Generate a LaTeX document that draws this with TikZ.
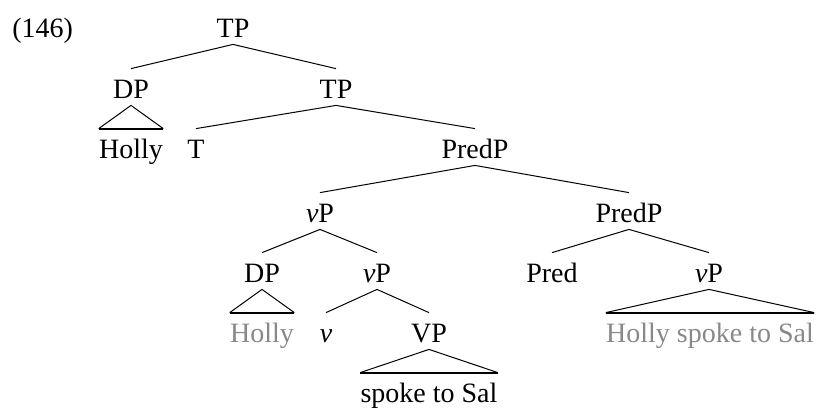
\documentclass[tikz,border=0pt]{standalone}
\usepackage{fontspec}
\setmainfont{Liberation Serif}
\definecolor{tracegray}{RGB}{136,136,136}
\begin{document}
\begin{tikzpicture}[x=0.5pt,y=-0.5pt,
  font=\fontsize{14}{16}\selectfont,
  cat/.style={anchor=base,inner xsep=1pt,inner ysep=3.5pt,text height=11pt,text depth=0pt},
  leaf/.style={cat,inner xsep=0pt},
  trace/.style={text=tracegray},
  edge/.style={line width=0.5pt},
  base/.style={line width=1.1pt}]
\useasboundingbox (0,0) rectangle (819,409);

\node[anchor=base west,inner sep=0pt] (ex) at (12,37) {(146)};

% upper spine
\node[cat] (tp0) at (233,37) {TP};
\node[cat] (dp1) at (131,98) {DP};
\node[leaf] (holly1) at (131,158) {Holly};
\node[cat] (tp1) at (336,98) {TP};
\node[cat] (t) at (196,158) {T};
\node[cat] (predp1) at (475,158) {PredP};

% small clause
\node[cat] (vp1) at (320,222) {\textit{v}P};
\node[cat] (predp2) at (629,222) {PredP};
\node[cat] (dp2) at (262,282) {DP};
\node[leaf,trace] (holly2) at (262,342) {Holly};
\node[cat] (vp2) at (377,282) {\textit{v}P};
\node[cat] (v) at (326,342) {\textit{v}};
\node[cat] (vpbar) at (429,342) {VP};
\node[leaf] (spoke) at (429,402) {spoke to Sal};
\node[cat] (pred) at (552,282) {Pred};
\node[cat] (vp3) at (709,282) {\textit{v}P};
\node[leaf,trace] (copy) at (710,342) {Holly spoke to Sal};

% branches
\draw[edge] (tp0.south) -- (dp1.north);
\draw[edge] (tp0.south) -- (tp1.north);
\draw[edge] (tp1.south) -- (t.north);
\draw[edge] (tp1.south) -- (predp1.north);
\draw[edge] (predp1.south) -- (vp1.north);
\draw[edge] (predp1.south) -- (predp2.north);
\draw[edge] (vp1.south) -- (dp2.north);
\draw[edge] (vp1.south) -- (vp2.north);
\draw[edge] (vp2.south) -- (v.north);
\draw[edge] (vp2.south) -- (vpbar.north);
\draw[edge] (predp2.south) -- (pred.north);
\draw[edge] (predp2.south) -- (vp3.north);

% roofs over unanalysed constituents
\foreach \m/\d in {dp1/holly1, dp2/holly2, vpbar/spoke, vp3/copy}{
  \draw[edge] (\d.north west) -- (\m.south) -- (\d.north east);
  \draw[base] (\d.north west) -- (\d.north east);
}
\end{tikzpicture}
\end{document}
